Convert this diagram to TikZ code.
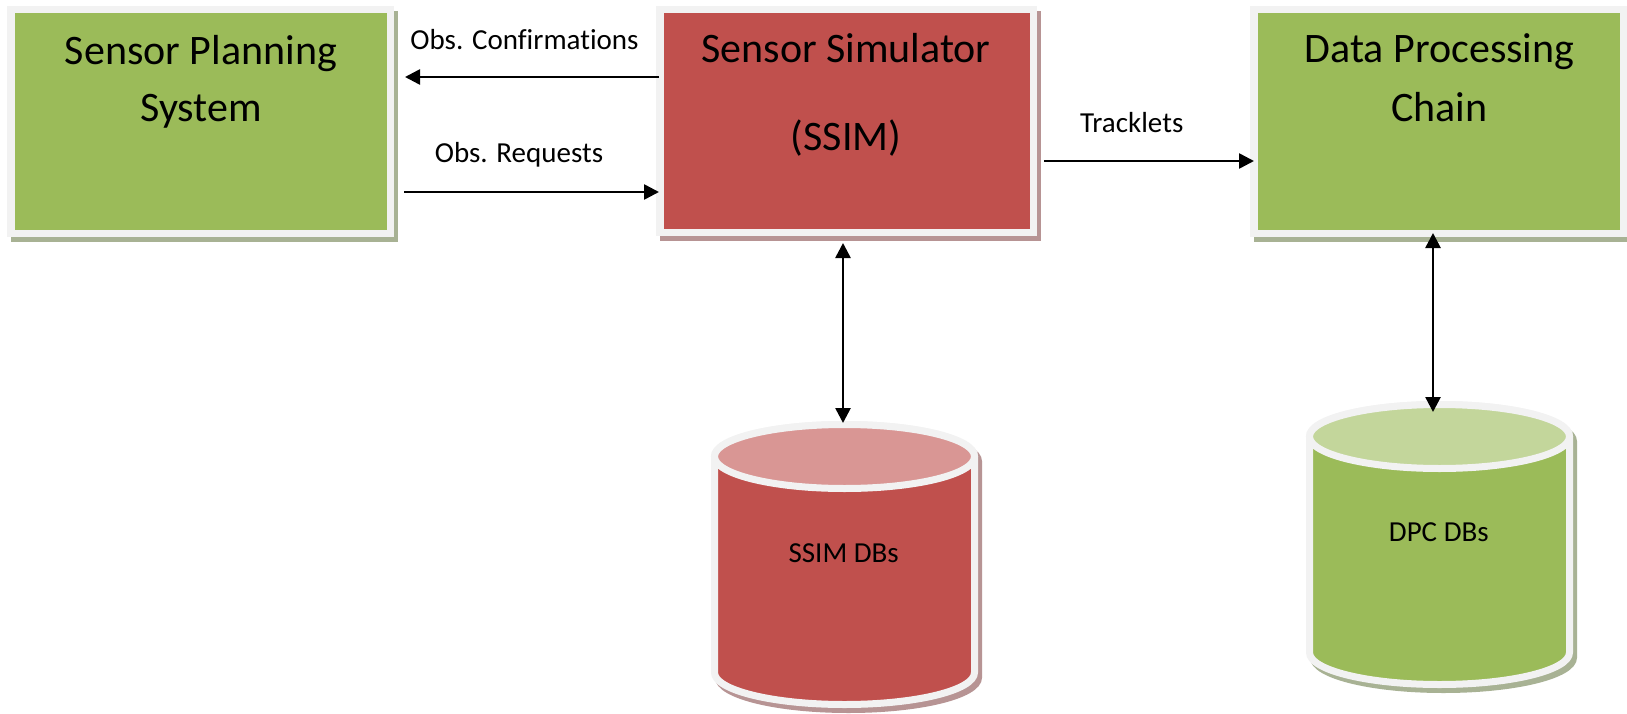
\documentclass[tikz,border=0pt]{standalone}
\usepackage{fontspec}
\setmainfont{Carlito}[Ligatures=NoCommon]
\usetikzlibrary{arrows.meta,backgrounds,calc}

\definecolor{boxgreen}{HTML}{9BBB59}
\definecolor{boxred}{HTML}{C0504D}
\definecolor{topgreen}{HTML}{C3D69B}
\definecolor{topred}{HTML}{D99694}
\definecolor{rim}{HTML}{F2F2F2}
\definecolor{shgreen}{RGB}{168,178,148}
\definecolor{shred}{RGB}{183,148,148}

\tikzset{
  block/.style={rectangle, draw=rim, line width=7.5pt, inner sep=0pt},
  title/.style={anchor=base, inner sep=0pt, font=\fontsize{42}{50}\selectfont},
  lbl/.style={anchor=base, inner sep=0pt, font=\fontsize{29}{35}\selectfont},
  flow/.style={line width=2.6pt, -{Triangle[length=15pt,width=15pt]}},
  link/.style={line width=2.6pt, {Triangle[length=15pt,width=15pt]}-{Triangle[length=15pt,width=15pt]}},
}

% drop shadow behind a block node
\newcommand\blockshadow[2]{%
  \begin{scope}[on background layer]
    \fill[#2] ([shift={(4,5)}]#1.north west) rectangle ([shift={(4,5)}]#1.south east);
  \end{scope}}

% database cylinder: #1 name, #2 centre x, #3 top ellipse y, #4 bottom ellipse y,
% #5 body colour, #6 lid colour, #7 shadow colour
\newcommand\dbcyl[7]{%
  \node[inner sep=0pt, outer sep=0pt, minimum width=267pt,
        minimum height={#4-#3+71}] (#1) at (#2,{(#3+#4)/2}) {};
  \filldraw[#7, line width=7pt, shift={(4,5)}]
    ({#2-130},#3) -- ({#2-130},#4)
    arc[start angle=180, end angle=0, x radius=130, y radius=32]
    -- ({#2+130},#3)
    arc[start angle=0, end angle=-180, x radius=130, y radius=32] -- cycle;
  \filldraw[fill=#5, draw=rim, line width=7pt, line join=round]
    ({#2-130},#3) -- ({#2-130},#4)
    arc[start angle=180, end angle=0, x radius=130, y radius=32]
    -- ({#2+130},#3)
    arc[start angle=0, end angle=-180, x radius=130, y radius=32] -- cycle;
  \filldraw[fill=#6, draw=rim, line width=7pt]
    (#2,#3) ellipse[x radius=130, y radius=32];
}

\begin{document}
\begin{tikzpicture}[x=1pt, y=-1pt]
  \useasboundingbox (0,0) rectangle (1627,714);
  \begin{scope}[on background layer]
    \fill[white] (0,0) rectangle (1627,714);
  \end{scope}

  % main blocks
  \node[block, fill=boxgreen, minimum width=379.5pt, minimum height=223.5pt] (plan) at (200.5,121.5) {};
  \node[block, fill=boxred,   minimum width=373.5pt, minimum height=222.5pt] (sim)  at (846.5,121) {};
  \node[block, fill=boxgreen, minimum width=369.5pt, minimum height=223.5pt] (dpc)  at (1438.5,121.5) {};
  \blockshadow{plan}{shgreen}
  \blockshadow{sim}{shred}
  \blockshadow{dpc}{shgreen}

  \node[title] (plan1) at (201,65)    {Sensor Planning};
  \node[title] (plan2) at (201,122)   {System};
  \node[title] (sim1)  at (846,63)    {Sensor Simulator};
  \node[title] (sim2)  at (846,151)   {(SSIM)};
  \node[title] (dpc1)  at (1439.5,63) {Data Processing};
  \node[title] (dpc2)  at (1439.5,122){Chain};

  % databases
  \dbcyl{ssimdb}{844.5}{456.5}{672.5}{boxred}{topred}{shred}
  \dbcyl{dpcdb}{1439.5}{436.5}{652.5}{boxgreen}{topgreen}{shgreen}
  \node[lbl] (ssimtxt) at (843.7,562.7)  {SSIM DBs};
  \node[lbl] (dpctxt)  at (1438.8,541.7) {DPC DBs};

  % data flows
  \node[lbl] (conf) at (524.5,50)    {Obs. Confirmat\kern0pt ions};
  \node[lbl] (req)  at (519,162.7)   {Obs. Requests};
  \node[lbl] (trk)  at (1131.7,132.3){Tracklets};
  \draw[flow] ([shift={(3,71)}]sim.north west) -- ([shift={(11,71)}]plan.north east);
  \draw[flow] ([shift={(10,186)}]plan.north east) -- ([shift={(3,186)}]sim.north west);
  \draw[flow] ([shift={(7,155)}]sim.north east) -- ([shift={(4,155)}]dpc.north west);
  \draw[link] ([shift={(-3.5,7)}]sim.south) -- ([shift={(-1.5,2)}]ssimdb.north);
  \draw[link] ([shift={(-5.5,-4)}]dpc.south) -- ([shift={(-6.5,11)}]dpcdb.north);
\end{tikzpicture}
\end{document}
